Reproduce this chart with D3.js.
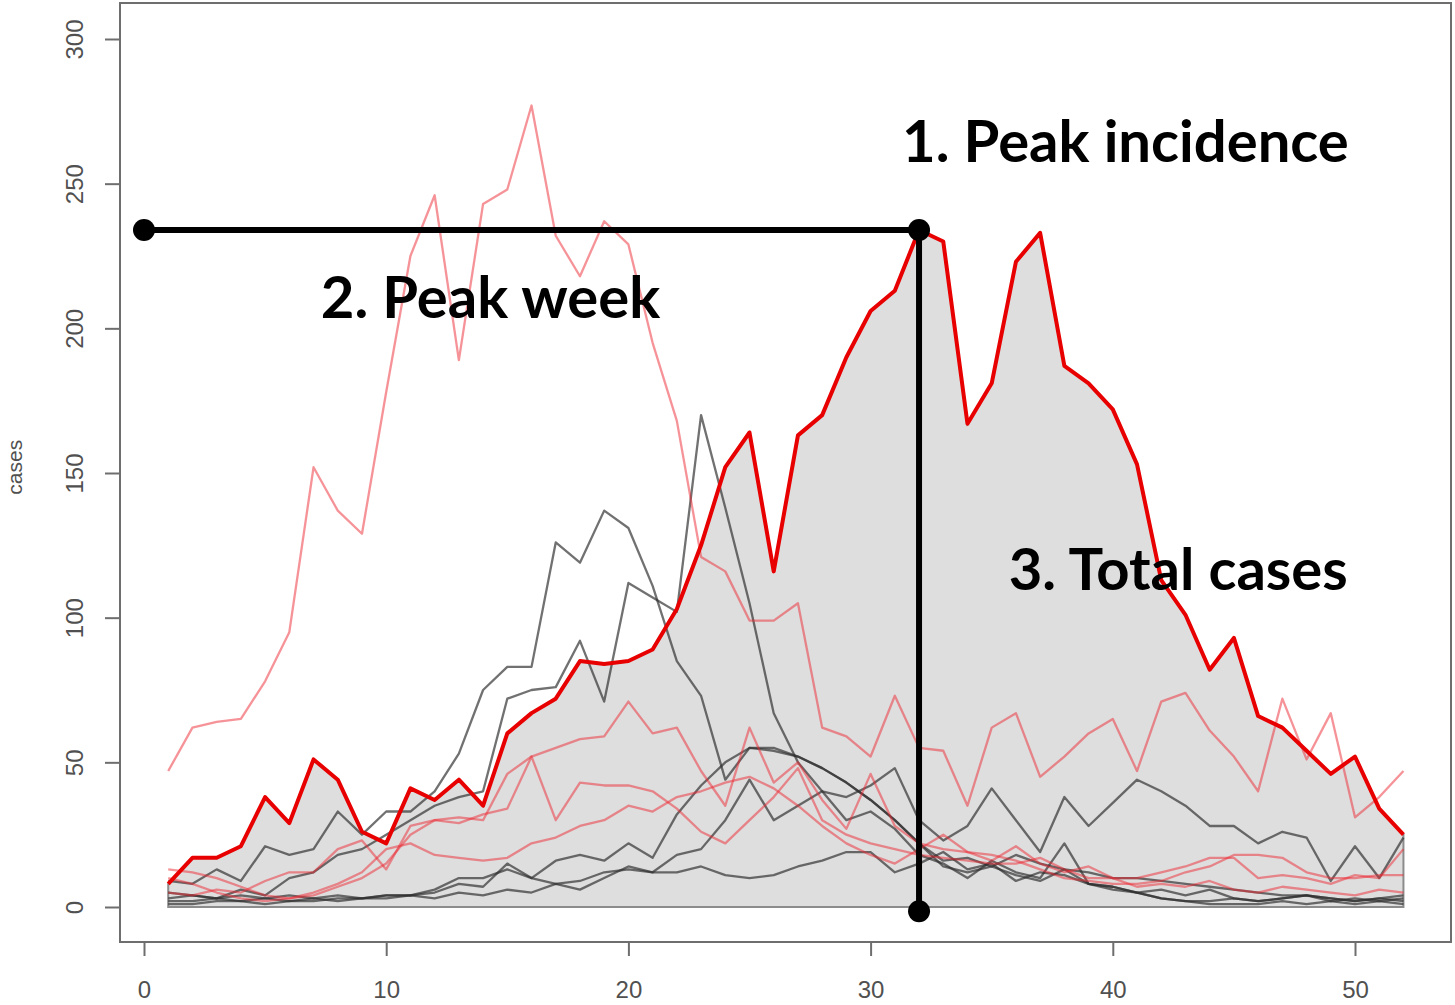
<!DOCTYPE html>
<html>
<head>
<meta charset="utf-8">
<script src="https://cdn.jsdelivr.net/npm/d3@7"></script>
<style>
  body { margin: 0; background: #fff; }
  svg { display: block; }
</style>
</head>
<body>
<script>
// weekly case counts, weeks 1..52
var weeks = d3.range(1, 53);

// highlighted season (thick red)
var mainSeason = [8,17,17,21,38,29,51,44,26,22,41,37,44,35,60,67,72,85,84,85,
  89,103,125,152,164,116,163,170,190,206,213,234,230,167,181,223,233,187,181,172,
  153,113,101,82,93,66,62,54,46,52,34,25];

// other seasons drawn in light red
var redSeasons = [
  [47,62,64,65,78,95,152,137,129,178,225,246,189,243,248,277,232,218,237,229,
   195,168,121,116,99,99,105,62,59,52,73,55,54,35,62,67,45,52,60,65,
   47,71,74,61,52,40,72,51,67,31,38,47],
  [13,12,10,7,4,3,4,7,10,15,25,30,31,30,46,52,55,58,59,71,
   60,62,47,35,62,43,50,37,27,46,28,22,20,19,16,21,15,12,14,10,
   7,8,7,9,6,5,7,6,5,4,6,5],
  [5,4,6,5,9,12,12,20,23,13,28,30,29,32,34,52,30,43,42,42,
   40,34,26,22,30,38,48,30,25,22,20,18,17,16,15,15,17,13,10,10,
   10,12,14,17,17,10,11,10,8,11,10,20],
  [10,8,5,3,2,3,5,8,12,20,22,18,17,16,17,22,24,28,30,35,
   33,38,40,43,45,41,35,28,22,18,15,20,25,19,18,16,13,10,9,8,
   8,9,12,14,18,18,17,12,10,10,11,11]
];

// other seasons drawn in grey
var greySeasons = [
  [9,8,13,9,21,18,20,33,25,33,33,40,53,75,83,83,126,119,137,131,
   111,85,73,44,55,54,52,48,43,37,30,22,16,17,14,18,15,13,12,10,
   10,9,8,7,6,5,4,4,3,2,3,2],
  [3,4,3,6,4,10,12,18,20,25,30,35,38,40,72,75,76,92,71,112,
   107,102,170,138,105,67,50,40,30,33,27,18,15,10,16,12,10,22,8,7,
   5,6,4,6,3,2,3,4,2,3,2,3],
  [2,2,3,2,1,2,2,3,3,4,4,6,10,10,13,10,16,18,16,22,
   17,32,42,50,55,55,52,48,43,37,30,22,14,12,14,11,9,13,8,6,
   5,3,2,1,1,1,2,1,2,1,2,1],
  [5,4,3,4,3,2,3,2,3,3,4,3,5,4,6,5,8,6,10,14,
   12,18,20,30,44,30,35,40,38,42,48,30,23,28,41,30,19,38,28,36,
   44,40,35,28,28,22,26,24,9,21,10,24],
  [1,1,2,2,3,4,3,4,3,4,4,5,8,7,15,10,8,9,12,13,
   12,12,14,11,10,11,14,16,19,19,12,15,19,13,15,9,12,11,8,7,
   5,3,2,2,3,2,3,4,3,2,3,4]
];

var xTicks = [0, 10, 20, 30, 40, 50];
var yTicks = [0, 50, 100, 150, 200, 250, 300];

var peakWeek = 32;
var peakCases = mainSeason[peakWeek - 1];

var labels = [
  { text: "1. Peak incidence", week: 31.3, cases: 257.5 },
  { text: "2. Peak week",      week: 7.3,  cases: 203.6 },
  { text: "3. Total cases",    week: 35.7, cases: 109.6 }
];

var width = 1455, height = 1005;
var box = { left: 120, top: 3, right: 1451, bottom: 942 };

var svg = d3.select("body").append("svg")
  .attr("width", width)
  .attr("height", height);

var x = d3.scaleLinear().domain([0, 50]).range([144, 1355]);
var y = d3.scaleLinear().domain([0, 300]).range([907, 39]);

var line = d3.line()
  .x(function (d, i){ return x(weeks[i]); })
  .y(function (d){ return y(d); });

var area = d3.area()
  .x(function (d, i){ return x(weeks[i]); })
  .y0(y(0))
  .y1(function (d){ return y(d); });

// total cases shading
svg.append("path")
  .datum(mainSeason)
  .attr("d", function (d){ return area(d) + "Z"; })
  .attr("fill", "#dedede")
  .attr("stroke", "#8c8c8c")
  .attr("stroke-width", 2);

svg.selectAll("path.grey").data(greySeasons).enter()
  .append("path")
  .attr("class", "grey")
  .attr("d", line)
  .attr("fill", "none")
  .attr("stroke", "rgba(45,45,45,0.68)")
  .attr("stroke-width", 2.3)
  .attr("stroke-linejoin", "round");

svg.selectAll("path.red").data(redSeasons).enter()
  .append("path")
  .attr("class", "red")
  .attr("d", line)
  .attr("fill", "none")
  .attr("stroke", "rgba(238,40,50,0.5)")
  .attr("stroke-width", 2.3)
  .attr("stroke-linejoin", "round");

svg.append("path")
  .datum(mainSeason)
  .attr("d", line)
  .attr("fill", "none")
  .attr("stroke", "#e80000")
  .attr("stroke-width", 4)
  .attr("stroke-linejoin", "round");

// plot frame
svg.append("rect")
  .attr("x", box.left).attr("y", box.top)
  .attr("width", box.right - box.left)
  .attr("height", box.bottom - box.top)
  .attr("fill", "none")
  .attr("stroke", "#6e6e6e")
  .attr("stroke-width", 2);

// x axis
var xAxis = d3.axisBottom(x).tickValues(xTicks).tickSize(14).tickPadding(25);
var gx = svg.append("g")
  .attr("transform", "translate(0," + box.bottom + ")")
  .call(xAxis);
gx.select(".domain").attr("stroke", "none");
gx.selectAll(".tick line").attr("stroke", "#6e6e6e").attr("stroke-width", 2);
gx.selectAll(".tick text")
  .attr("fill", "#505050")
  .style("font-family", "'Liberation Sans', Arial, sans-serif")
  .style("font-size", "24px");

// y axis
var yAxis = d3.axisLeft(y).tickValues(yTicks).tickSize(15).tickPadding(0);
var gy = svg.append("g")
  .attr("transform", "translate(" + box.left + ",0)")
  .call(yAxis);
gy.select(".domain").attr("stroke", "none");
gy.selectAll(".tick line").attr("stroke", "#6e6e6e").attr("stroke-width", 2);
gy.selectAll(".tick text")
  .attr("fill", "#505050")
  .attr("x", null).attr("dy", null)
  .attr("text-anchor", "middle")
  .attr("transform", "translate(-37,0) rotate(-90)")
  .style("font-family", "'Liberation Sans', Arial, sans-serif")
  .style("font-size", "24px");

svg.append("text")
  .attr("transform", "translate(22," + y(152) + ") rotate(-90)")
  .attr("text-anchor", "middle")
  .attr("fill", "#505050")
  .style("font-family", "'Liberation Sans', Arial, sans-serif")
  .style("font-size", "21px")
  .text("cases");

// peak annotations
var ann = svg.append("g");
ann.append("line")
  .attr("x1", x(0)).attr("y1", y(peakCases))
  .attr("x2", x(peakWeek)).attr("y2", y(peakCases))
  .attr("stroke", "#000").attr("stroke-width", 6);
ann.append("line")
  .attr("x1", x(peakWeek)).attr("y1", y(peakCases))
  .attr("x2", x(peakWeek)).attr("y2", y(-1.5))
  .attr("stroke", "#000").attr("stroke-width", 6);
ann.selectAll("circle")
  .data([[0, peakCases], [peakWeek, peakCases], [peakWeek, -1.5]])
  .enter().append("circle")
  .attr("cx", function (d){ return x(d[0]); })
  .attr("cy", function (d){ return y(d[1]); })
  .attr("r", 11)
  .attr("fill", "#000");

svg.selectAll("text.label").data(labels).enter()
  .append("text")
  .attr("class", "label")
  .attr("x", function (d){ return x(d.week); })
  .attr("y", function (d){ return y(d.cases); })
  .attr("fill", "#000")
  .style("font-family", "Lato, 'Open Sans', sans-serif")
  .style("font-weight", "700")
  .style("font-size", "58px")
  .text(function (d){ return d.text; });
</script>
</body>
</html>
